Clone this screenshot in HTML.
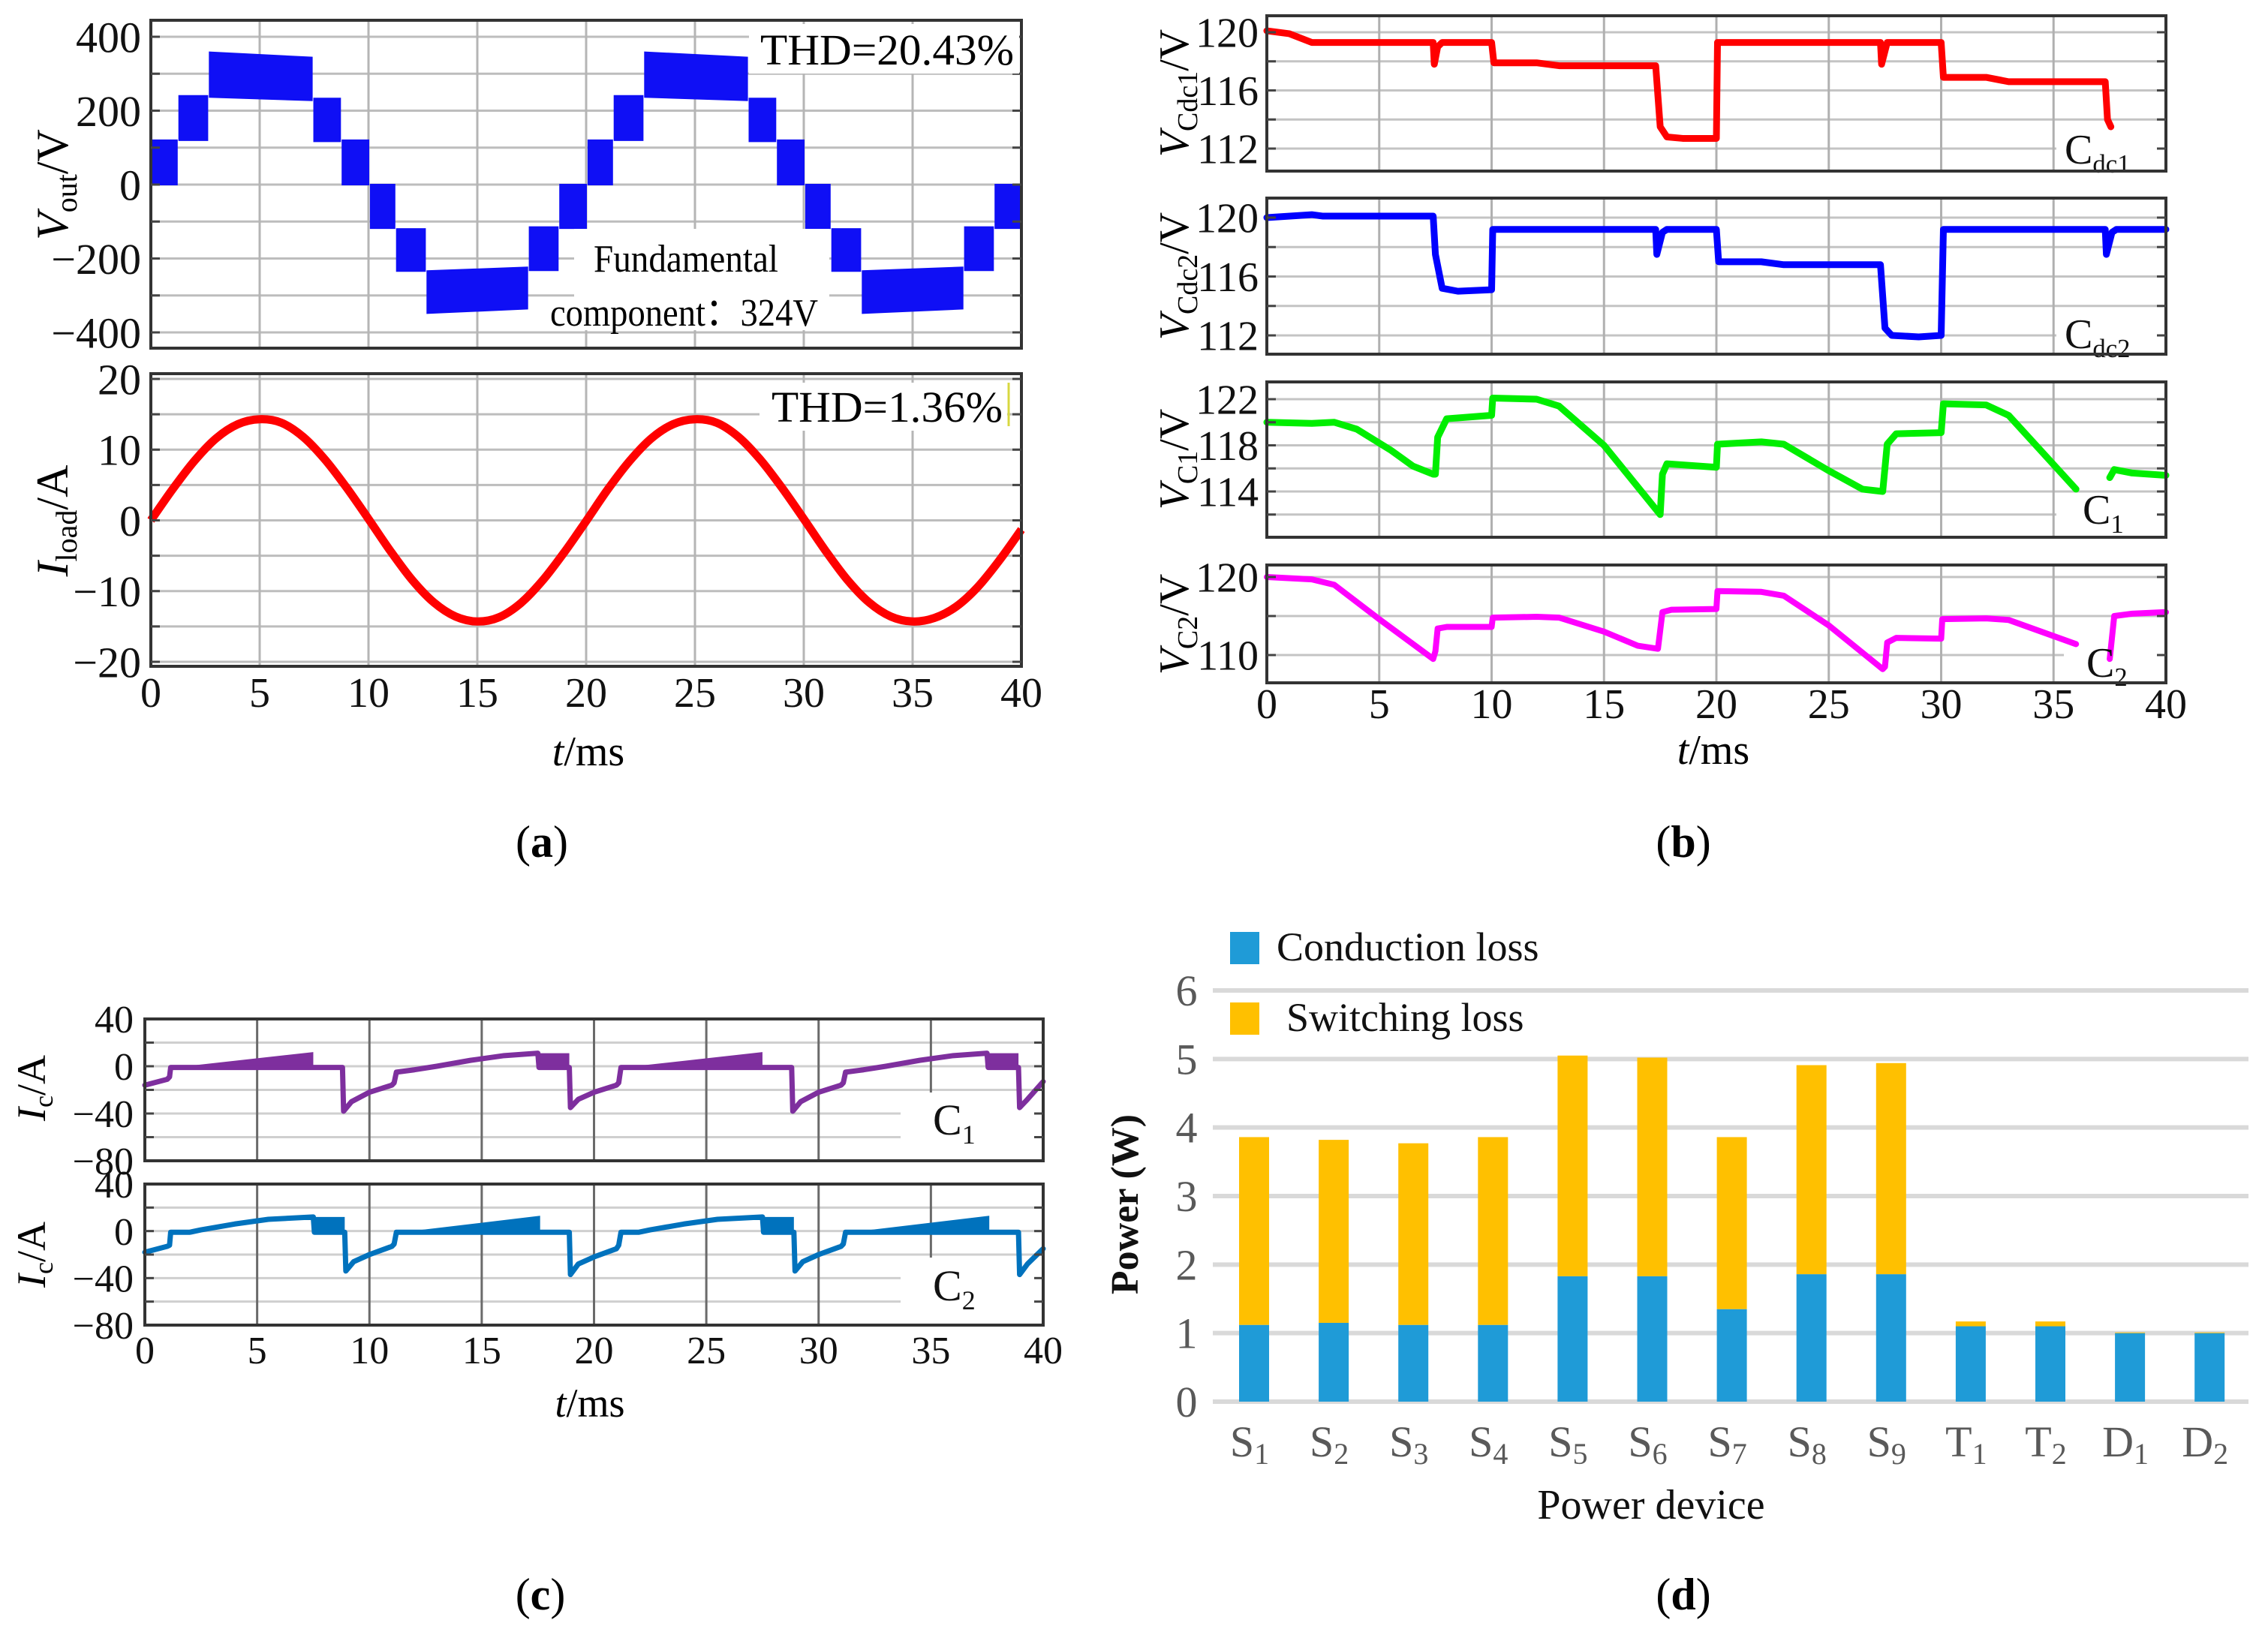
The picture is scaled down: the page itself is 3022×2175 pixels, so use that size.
<!DOCTYPE html>
<html><head><meta charset="utf-8"><style>
html,body{margin:0;padding:0;background:#fff}
svg{display:block}
text{font-family:"Liberation Serif",serif}
</style></head><body>
<svg id="fig" width="3022" height="2175" viewBox="0 0 3022 2175" xmlns="http://www.w3.org/2000/svg">
<rect x="0" y="0" width="3022" height="2175" fill="#fff"/>
<g id="grids"></g>
<g id="marks"></g>
<g id="frames"></g>
<g id="ticks" font-size="56" fill="#111"></g>
<!-- panel a annotations -->
<rect x="998" y="32" width="360" height="66" fill="#fff"/>
<text x="1013" y="86" font-size="58" textLength="338" lengthAdjust="spacingAndGlyphs">THD=20.43%</text>
<rect x="765" y="305" width="340" height="135" fill="#fff"/>
<text x="791" y="362" font-size="52" textLength="246" lengthAdjust="spacingAndGlyphs">Fundamental</text>
<text x="733" y="434" font-size="52" textLength="357" lengthAdjust="spacingAndGlyphs">component：324V</text>
<rect x="1012" y="510" width="330" height="64" fill="#fff"/>
<text x="1028" y="562" font-size="58" textLength="308" lengthAdjust="spacingAndGlyphs">THD=1.36%</text>
<line x1="1344" y1="510" x2="1344" y2="568" stroke="#d8d840" stroke-width="3"/>
<text transform="translate(90,246) rotate(-90)" text-anchor="middle" font-size="60"><tspan font-style="italic">V</tspan><tspan font-size="40" dy="12">out</tspan><tspan dy="-12">/V</tspan></text>
<text transform="translate(90,694) rotate(-90)" text-anchor="middle" font-size="60"><tspan font-style="italic">I</tspan><tspan font-size="40" dy="12">load</tspan><tspan dy="-12">/A</tspan></text>
<text x="784" y="1020" text-anchor="middle" font-size="56"><tspan font-style="italic">t</tspan>/ms</text>
<text x="722" y="1142" text-anchor="middle" font-size="60">(<tspan font-weight="bold">a</tspan>)</text>
<!-- panel b annotations -->
<text transform="translate(1583,124) rotate(-90)" text-anchor="middle" font-size="56"><tspan font-style="italic">V</tspan><tspan font-size="38" dy="12">Cdc1</tspan><tspan dy="-12">/V</tspan></text>
<text transform="translate(1583,368) rotate(-90)" text-anchor="middle" font-size="56"><tspan font-style="italic">V</tspan><tspan font-size="38" dy="12">Cdc2</tspan><tspan dy="-12">/V</tspan></text>
<text transform="translate(1583,612) rotate(-90)" text-anchor="middle" font-size="56"><tspan font-style="italic">V</tspan><tspan font-size="38" dy="12">C1</tspan><tspan dy="-12">/V</tspan></text>
<text transform="translate(1583,832) rotate(-90)" text-anchor="middle" font-size="56"><tspan font-style="italic">V</tspan><tspan font-size="38" dy="12">C2</tspan><tspan dy="-12">/V</tspan></text>
<text x="2283" y="1018" text-anchor="middle" font-size="56"><tspan font-style="italic">t</tspan>/ms</text>
<text x="2243" y="1142" text-anchor="middle" font-size="60">(<tspan font-weight="bold">b</tspan>)</text>
<!-- panel c annotations -->
<text transform="translate(60,1450) rotate(-90)" text-anchor="middle" font-size="54"><tspan font-style="italic">I</tspan><tspan font-size="36" dy="10">c</tspan><tspan dy="-10">/A</tspan></text>
<text transform="translate(60,1672) rotate(-90)" text-anchor="middle" font-size="54"><tspan font-style="italic">I</tspan><tspan font-size="36" dy="10">c</tspan><tspan dy="-10">/A</tspan></text>
<text x="786" y="1888" text-anchor="middle" font-size="54"><tspan font-style="italic">t</tspan>/ms</text>
<text x="720" y="2145" text-anchor="middle" font-size="60">(<tspan font-weight="bold">c</tspan>)</text>
<!-- panel d annotations -->
<rect x="1639" y="1242" width="39" height="43" fill="#1f9bd7"/>
<text x="1701" y="1280" font-size="54" fill="#111">Conduction loss</text>
<rect x="1639" y="1336" width="39" height="43" fill="#ffc000"/>
<text x="1714" y="1374" font-size="54" fill="#111">Switching loss</text>
<text transform="translate(1516,1605) rotate(-90)" text-anchor="middle" font-size="52" font-weight="bold" fill="#111">Power (W)</text>
<text x="2200" y="2024" text-anchor="middle" font-size="56" fill="#111">Power device</text>
<text x="2243" y="2145" text-anchor="middle" font-size="60">(<tspan font-weight="bold">d</tspan>)</text>
</svg>
<script>
// ---------- DATA ----------
// Panel a: Vout PWM blocks (ms, V)
const voutStart=[0,1.3,2.7,7.5,8.8,10.1,11.3,12.7,17.4,18.8,20.1,21.3,22.7,27.5,28.8,30.1,31.3,32.7,37.4,38.8];
const voutEnd=[1.2,2.6,7.4,8.7,10,11.2,12.6,17.3,18.7,20,21.2,22.6,27.4,28.7,30,31.2,32.6,37.3,38.7,40];
const voutLowStart=[0,120,237,117,0,-118,-234,-348,-232,-118,0,120,237,117,0,-118,-234,-348,-232,-118];
const voutHighStart=[120,240,358,233,120,0,-120,-234,-115,0,120,240,358,233,120,0,-120,-234,-115,0];
const voutLowEnd=[0,120,228,117,0,-118,-234,-336,-232,-118,0,120,228,117,0,-118,-234,-336,-232,-118];
const voutHighEnd=[120,240,344,233,120,0,-120,-224,-115,0,120,240,344,233,120,0,-120,-224,-115,0];
// Panel a: load current
const iloadT=[0,1,2,3,4,5,6,7,8,9,10,11,12,13,14,15,16,17,18,19,20,21,22,23,24,25,26,27,28,29,30,31,32,33,34,35,36,37,38,39,40];
const iloadV=[0,4.4,8.4,11.6,13.6,14.3,13.8,11.8,8.6,4.6,0.2,-4.3,-8.4,-11.6,-13.6,-14.3,-13.7,-11.7,-8.5,-4.5,-0.1,4.4,8.4,11.6,13.6,14.3,13.8,11.8,8.6,4.6,0.2,-4.3,-8.4,-11.6,-13.6,-14.3,-13.8,-12.2,-9.4,-5.6,-1.3];
// Panel b
const vdc1T=[0,1,2,7.4,7.45,7.6,7.8,10,10.1,12,13,17.3,17.5,17.8,18.5,20,20.05,27.3,27.35,27.6,30,30.1,32,33,37.3,37.4,37.55];
const vdc1V=[120.1,119.9,119.3,119.3,117.8,119,119.3,119.3,117.9,117.9,117.7,117.7,113.5,112.8,112.7,112.7,119.3,119.3,117.8,119.3,119.3,116.9,116.9,116.6,116.6,114,113.5];
const vdc2T=[0,2,2.5,7.4,7.5,7.8,8.5,10,10.05,17.3,17.35,17.6,17.8,20,20.1,22,23,27.3,27.5,27.8,29,30,30.1,37.3,37.35,37.6,37.8,40];
const vdc2V=[120,120.2,120.1,120.1,117.5,115.2,115,115.1,119.2,119.2,117.5,119,119.2,119.2,117,117,116.8,116.8,112.5,112,111.9,112,119.2,119.2,117.5,119,119.2,119.2];
const vc1T=[0,2,3,4,5.5,6.5,7.4,7.5,7.6,8,10,10.05,12,13,15,17.5,17.6,17.8,20,20.05,22,23,25,26.5,27.4,27.6,28,30,30.1,32,33,36,36.1,37.5,37.7,38.5,40];
const vc1V=[120,119.9,120,119.4,117.6,116.2,115.5,115.5,118.7,120.3,120.6,122.1,122,121.4,118,112,115.5,116.4,116.1,118.1,118.3,118.1,115.8,114.2,114,118.1,119,119.1,121.6,121.5,120.6,114.2,null,115.2,115.9,115.6,115.4];
const vc2T=[0,2,3,5,7.4,7.5,7.6,8,10,10.05,12,13,15,16.5,17.4,17.6,18,20,20.05,22,23,25,27.4,27.5,27.6,28,30,30.05,32,33,36,36.1,37.5,37.7,38.5,40];
const vc2V=[120,119.7,119,114.6,109.5,110.5,113.4,113.6,113.6,114.8,114.9,114.8,113,111.2,110.8,115.5,115.8,115.9,118.2,118.1,117.6,113.8,108.2,108.5,111.6,112.2,112.1,114.6,114.7,114.5,111.4,null,109.5,115,115.3,115.5];
// Panel c
const ic1T=[0,1,1.1,1.15,8.8,8.85,9.2,10,11,11.1,11.2,12,13,14.5,16,17.5,17.55,18.9,18.95,19.3,20,21,21.1,21.2,28.8,28.85,29.2,30,31,31.1,31.2,32,33,34.5,36,37.5,37.55,38.9,38.95,39.3,40];
const ic1V=[-16,-11,-9,-1,-1,-38,-30,-22,-16,-14,-5,-3,0,5,9,11,-1,-1,-35,-28,-22,-16,-14,-1,-1,-38,-30,-22,-16,-14,-5,-3,0,5,9,11,-1,-1,-35,-28,-13];
const ic1BandStart=[2.3,17.5,22.3,37.5];
const ic1BandEnd=[7.5,18.9,27.5,38.9];
const ic1BandTopStart=[1,11,1,11];
const ic1BandTopEnd=[12,11,12,11];
const ic2T=[0,1,1.1,1.15,2,2.5,4,5.5,7.5,7.55,8.9,8.95,9.3,10,11,11.1,11.2,18.9,18.95,19.3,20,21,21.1,21.2,22,22.5,24,25.5,27.5,27.55,28.9,28.95,29.3,30,31,31.1,31.2,38.9,38.95,39.3,40];
const ic2V=[-18,-13,-12,-1,-1,1,6,10,12,-1,-1,-34,-26,-20,-13,-11,-1,-1,-37,-28,-22,-15,-12,-1,-1,1,6,10,12,-1,-1,-34,-26,-20,-13,-11,-1,-1,-37,-28,-15];
const ic2BandStart=[7.5,12.3,27.5,32.3];
const ic2BandEnd=[8.9,17.6,28.9,37.6];
const ic2BandTopStart=[12,1,12,1];
const ic2BandTopEnd=[12,13,12,13];
// Panel d
const devices=["S1","S2","S3","S4","S5","S6","S7","S8","S9","T1","T2","D1","D2"];
const conductionLoss=[1.12,1.15,1.12,1.12,1.83,1.83,1.35,1.86,1.86,1.1,1.1,1.0,1.0];
const totalLoss=[3.86,3.82,3.77,3.86,5.05,5.02,3.86,4.91,4.94,1.17,1.17,1.01,1.01];
const powerTicks=[0,1,2,3,4,5,6];
const timeTicks=[0,5,10,15,20,25,30,35,40];

// ---------- HELPERS ----------
const NS="http://www.w3.org/2000/svg";
const G=id=>document.getElementById(id);
function mk(parent,tag,attrs){const e=document.createElementNS(NS,tag);for(const k in attrs)e.setAttribute(k,attrs[k]);G(parent).appendChild(e);return e;}
function lin(d0,d1,p0,p1){return v=>p0+(v-d0)*(p1-p0)/(d1-d0);}
function fmt(v){return v<0?"\u2212"+(-v):""+v;}

const panels=[
 {id:"a1",x0:201,x1:1361,y0:27,y1:464,Y:lin(400,-400,49,443),grid:[-400,-300,-200,-100,0,100,200,300,400],labels:[-400,-200,0,200,400],lx:188,gc:"#bdbdbd",vc:"#b5b5b5"},
 {id:"a2",x0:201,x1:1361,y0:498,y1:888,Y:lin(20,-20,505,882),grid:[-20,-15,-10,-5,0,5,10,15,20],labels:[-20,-10,0,10,20],lx:188,gc:"#bdbdbd",vc:"#b5b5b5"},
 {id:"b1",x0:1688,x1:2886,y0:21,y1:228,Y:lin(120,112,43,198),grid:[112,114,116,118,120],labels:[112,116,120],lx:1677,gc:"#c4c4c4",vc:"#b0b0b0"},
 {id:"b2",x0:1688,x1:2886,y0:264,y1:472,Y:lin(120,112,290,447),grid:[112,114,116,118,120],labels:[112,116,120],lx:1677,gc:"#c4c4c4",vc:"#b0b0b0"},
 {id:"b3",x0:1688,x1:2886,y0:509,y1:716,Y:lin(122,114,532,655),grid:[112,114,116,118,120,122],labels:[114,118,122],lx:1677,gc:"#c4c4c4",vc:"#b0b0b0"},
 {id:"b4",x0:1688,x1:2886,y0:753,y1:910,Y:lin(120,110,769,873),grid:[110,115,120],labels:[110,120],lx:1677,gc:"#c4c4c4",vc:"#b0b0b0"},
 {id:"c1",x0:193,x1:1390,y0:1358,y1:1547,Y:lin(40,-80,1358,1547),grid:[-60,-40,-20,0,20],labels:[-80,-40,0,40],lx:178,gc:"#cfcfcf",vc:"#6a6a6a"},
 {id:"c2",x0:193,x1:1390,y0:1578,y1:1766,Y:lin(40,-80,1578,1766),grid:[-60,-40,-20,0,20],labels:[-80,-40,0,40],lx:178,gc:"#cfcfcf",vc:"#6a6a6a"}
];
panels.forEach(p=>{
 p.X=lin(0,40,p.x0,p.x1);
 p.grid.forEach(v=>{const y=p.Y(v);if(y<p.y0||y>p.y1)return;
  const l=mk("grids","line",{x1:p.x0,x2:p.x1,y1:y,y2:y,stroke:p.gc,"stroke-width":3});
  
  
  mk("ticks","line",{x1:p.x0,x2:p.x0+12,y1:y,y2:y,stroke:"#444","stroke-width":3});
  mk("ticks","line",{x1:p.x1-12,x2:p.x1,y1:y,y2:y,stroke:"#444","stroke-width":3});});
 timeTicks.forEach(t=>{const x=p.X(t);
  const l=mk("grids","line",{x1:x,x2:x,y1:p.y0,y2:p.y1,stroke:p.vc,"stroke-width":3});
  
  });
 const f=mk("frames","rect",{x:p.x0,y:p.y0,width:p.x1-p.x0,height:p.y1-p.y0,fill:"none",stroke:"#333","stroke-width":4});
 
 
 const fs=p.id[0]==="c"?52:(p.id[0]==="b"?56:58);
 p.labels.forEach(v=>{
  const t=mk("ticks","text",{x:p.lx,y:p.Y(v)+fs*0.35,"text-anchor":"end","font-size":fs});
  t.textContent=fmt(v);
  
  });
});
const P={};panels.forEach(p=>P[p.id]=p);
function xLabels(p,y,fs){timeTicks.forEach(t=>{const e=mk("ticks","text",{x:p.X(t),y:y,"text-anchor":"middle","font-size":fs});e.textContent=t;
 
 });}
xLabels(P.a2,942,56);xLabels(P.b4,957,56);xLabels(P.c2,1817,52);

// ---------- PANEL A ----------
voutStart.forEach((s,i)=>{const p=P.a1;
 const pts=[[p.X(s),p.Y(voutLowStart[i])],[p.X(s),p.Y(voutHighStart[i])],[p.X(voutEnd[i]),p.Y(voutHighEnd[i])],[p.X(voutEnd[i]),p.Y(voutLowEnd[i])]];
 const e=mk("marks","polygon",{points:pts.map(q=>q.join(",")).join(" "),fill:"#0f0ff5",stroke:"#0f0ff5","stroke-width":2});
 
 });
function smoothPath(T,V,X,Y){const pts=T.map((t,i)=>[X(t),Y(V[i])]);let d="M"+pts[0].join(",");
 for(let i=0;i<pts.length-1;i++){const p0=pts[Math.max(0,i-1)],p1=pts[i],p2=pts[i+1],p3=pts[Math.min(pts.length-1,i+2)];
  const c1=[p1[0]+(p2[0]-p0[0])/6,p1[1]+(p2[1]-p0[1])/6],c2=[p2[0]-(p3[0]-p1[0])/6,p2[1]-(p3[1]-p1[1])/6];
  d+=" C"+c1.join(",")+" "+c2.join(",")+" "+p2.join(",");}return d;}
const il=mk("marks","path",{d:smoothPath(iloadT,iloadV,P.a2.X,P.a2.Y),fill:"none",stroke:"#ff0000","stroke-width":11,"stroke-linejoin":"round"});



// ---------- PANEL B / C lines ----------
function linePath(T,V,p){let d="",pen=false;T.forEach((t,i)=>{if(V[i]===null){pen=false;return;}d+=(pen?" L":" M")+p.X(t)+","+p.Y(V[i]);pen=true;});return d;}
function drawLine(T,V,p,col,w,name){const e=mk("marks","path",{d:linePath(T,V,p),fill:"none",stroke:col,"stroke-width":w,"stroke-linejoin":"round","stroke-linecap":"round"});
 
 }
// label boxes first (below lines)
function labelBox(x,y,w,h,name){const r=mk("marks","rect",{x:x,y:y,width:w,height:h,fill:"#fff"});
 
 }
labelBox(2740,176,140,50,"cdc1-label-bg");
labelBox(2740,418,140,52,"cdc2-label-bg");
labelBox(2740,658,140,56,"c1-label-bg");
labelBox(2750,858,130,50,"c2-label-bg");
labelBox(1200,1456,186,89,"ic1-label-bg");
labelBox(1200,1676,186,88,"ic2-label-bg");
drawLine(vdc1T,vdc1V,P.b1,"#ff0000",9,"vcdc1-line");
drawLine(vdc2T,vdc2V,P.b2,"#0000ff",9,"vcdc2-line");
drawLine(vc1T,vc1V,P.b3,"#00ee00",9,"vc1-line");
drawLine(vc2T,vc2V,P.b4,"#ff00ff",8,"vc2-line");
function bands(S,E,TS,TE,p,col,name){S.forEach((s,i)=>{const pts=[[p.X(s),p.Y(-1)],[p.X(s),p.Y(TS[i])],[p.X(E[i]),p.Y(TE[i])],[p.X(E[i]),p.Y(-1)]];
 const e=mk("marks","polygon",{points:pts.map(q=>q.join(",")).join(" "),fill:col});
 
 });}
bands(ic1BandStart,ic1BandEnd,ic1BandTopStart,ic1BandTopEnd,P.c1,"#7e2f9e","ic1-ripple-band");
bands(ic2BandStart,ic2BandEnd,ic2BandTopStart,ic2BandTopEnd,P.c2,"#0072bd","ic2-ripple-band");
drawLine(ic1T,ic1V,P.c1,"#7e2f9e",7,"ic1-line");
drawLine(ic2T,ic2V,P.c2,"#0072bd",7,"ic2-line");

function seriesLabel(x,y,main,sub,fs,name){
 const t=mk("marks","text",{x:x,y:y,"font-size":fs,fill:"#111"});
 
 
 t.innerHTML=main+'<tspan font-size="'+(fs*0.62)+'" dy="12">'+sub+'</tspan>';}
seriesLabel(2751,218,"C","dc1",56,"cdc1-label");
seriesLabel(2751,464,"C","dc2",56,"cdc2-label");
seriesLabel(2775,698,"C","1",56,"c1-label");
seriesLabel(2780,902,"C","2",56,"c2-label");
seriesLabel(1243,1512,"C","1",58,"ic1-label");
seriesLabel(1243,1733,"C","2",58,"ic2-label");

// ---------- PANEL D ----------
const DY=lin(0,6,1868,1320), DX=i=>1671+i*106.1, BW=40;
powerTicks.forEach(v=>{
 const g=mk("grids","line",{x1:1616,x2:2996,y1:DY(v),y2:DY(v),stroke:"#d9d9d9","stroke-width":6});
 
 
 const t=mk("ticks","text",{x:1581,y:DY(v)+20,"text-anchor":"middle","font-size":58,fill:"#595959"});
 t.textContent=v;
 
 });
devices.forEach((d,i)=>{
 const c=mk("marks","rect",{x:DX(i)-BW/2,y:DY(conductionLoss[i]),width:BW,height:DY(0)-DY(conductionLoss[i]),fill:"#1f9bd7"});
 
 
 const s=mk("marks","rect",{x:DX(i)-BW/2,y:DY(totalLoss[i]),width:BW,height:DY(conductionLoss[i])-DY(totalLoss[i]),fill:"#ffc000"});
 
 
 const t=mk("ticks","text",{x:DX(i)-6,y:1941,"text-anchor":"middle","font-size":58,fill:"#595959"});
 t.innerHTML=d[0]+'<tspan font-size="40" dy="10">'+d.slice(1)+'</tspan>';
 
 });
</script>
</body></html>
